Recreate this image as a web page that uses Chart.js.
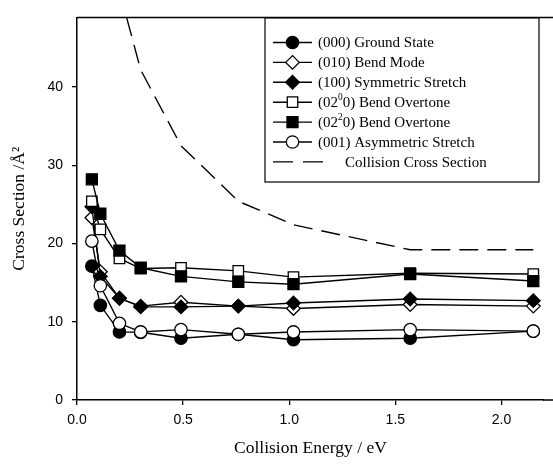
<!DOCTYPE html>
<html>
<head>
<meta charset="utf-8">
<script src="https://cdn.jsdelivr.net/npm/chart.js@4.4.0/dist/chart.umd.min.js"></script>
<style>
  html, body { margin: 0; padding: 0; background: #fff; }
</style>
</head>
<body>
<canvas id="chart" width="553" height="464"></canvas>
<script>
// collision energies (eV), shared by the vibrational states
const energies = [0.07, 0.11, 0.2, 0.3, 0.49, 0.76, 1.02, 1.57, 2.15];

// cross sections (A^2)
const groundState  = [17.1, 12.1, 8.7, 8.65, 7.9, 8.4, 7.7, 7.9, 8.8];
const bendMode     = [23.3, 16.4, 13.0, 12.0, 12.5, 12.0, 11.7, 12.2, 12.0];
const symStretch   = [24.7, 15.8, 13.0, 11.9, 11.9, 12.0, 12.4, 12.9, 12.7];
const bendOvertone0 = [25.4, 21.8, 18.1, 16.8, 16.9, 16.5, 15.7, 16.2, 16.1];
const bendOvertone2 = [28.2, 23.8, 19.1, 16.9, 15.8, 15.1, 14.8, 16.1, 15.2];
const asymStretch  = [20.3, 14.6, 9.8, 8.7, 9.0, 8.4, 8.7, 9.0, 8.8];

// collision cross section (dashed curve)
const collisionEnergies = [0.2, 0.3, 0.49, 0.76, 1.02, 1.57, 2.15];
const collisionSection  = [52.3, 42.2, 32.5, 25.4, 22.4, 19.2, 19.2];

// labels, {n} = superscript
const seriesLabels = [
  '(000) Ground State',
  '(010) Bend Mode',
  '(100) Symmetric Stretch',
  '(02{0}0) Bend Overtone',
  '(02{2}0) Bend Overtone',
  '(001) Asymmetric Stretch',
  'Collision Cross Section'
];

const xTicks = [0, 0.5, 1.0, 1.5, 2.0];
const yTicks = [0, 10, 20, 30, 40];

const serif = '"Liberation Serif", "Times New Roman", serif';
const sans = '"Liberation Sans", Arial, sans-serif';

function toPoints(xs, ys) {
  return xs.map((x, i) => ({ x: x, y: ys[i] }));
}

// marker styles for each series
const markers = [
  { pointStyle: 'circle',  radius: 6.2, fill: '#000' },
  { pointStyle: 'rectRot', radius: 6.8, fill: '#fff' },
  { pointStyle: 'rectRot', radius: 6.8, fill: '#000' },
  { pointStyle: 'rect',    radius: 7.4, fill: '#fff' },
  { pointStyle: 'rect',    radius: 7.8, fill: '#000' },
  { pointStyle: 'circle',  radius: 6.2, fill: '#fff' }
];

const stateValues = [groundState, bendMode, symStretch, bendOvertone0, bendOvertone2, asymStretch];

const datasets = stateValues.map((vals, i) => ({
  label: seriesLabels[i].replace(/[{}]/g, ''),
  data: toPoints(energies, vals),
  borderColor: '#000',
  borderWidth: 1.4,
  pointStyle: markers[i].pointStyle,
  pointRadius: markers[i].radius,
  pointBackgroundColor: markers[i].fill,
  pointBorderColor: '#000',
  pointBorderWidth: 1.3,
  order: 10 - i
}));

datasets.push({
  label: seriesLabels[6],
  data: toPoints(collisionEnergies, collisionSection),
  borderColor: '#000',
  borderWidth: 1.4,
  borderDash: [19, 9],
  pointRadius: 0,
  order: 20
});

// frame: top line, and bottom axis carried on to the right edge (plot is cut off there)
const frameLines = {
  id: 'frameLines',
  afterDraw(chart) {
    const { ctx, chartArea } = chart;
    ctx.save();
    ctx.strokeStyle = '#000';
    ctx.lineWidth = 1.5;
    ctx.beginPath();
    ctx.moveTo(chartArea.left, chartArea.top);
    ctx.lineTo(chart.width, chartArea.top);
    ctx.moveTo(chartArea.right - 1, chartArea.bottom);
    ctx.lineTo(chart.width, chartArea.bottom);
    ctx.stroke();
    ctx.restore();
  }
};

// draws a label, with {n} parts raised and smaller
function drawRichText(ctx, text, x, y, size) {
  const parts = text.split(/(\{[^}]*\})/);
  let cx = x;
  parts.forEach(p => {
    if (!p) return;
    if (p[0] === '{') {
      const s = p.slice(1, -1);
      ctx.font = (size * 0.62) + 'px ' + serif;
      ctx.fillText(s, cx, y - size * 0.38);
      cx += ctx.measureText(s).width;
    } else {
      ctx.font = size + 'px ' + serif;
      ctx.fillText(p, cx, y);
      cx += ctx.measureText(p).width;
    }
  });
}

const boxLegend = {
  id: 'boxLegend',
  afterDraw(chart) {
    const ctx = chart.ctx;
    const left = 265, top = 18, right = 539, bottom = 182;
    const rowTop = 42.5, rowStep = 19.9;
    ctx.save();
    ctx.fillStyle = '#fff';
    ctx.fillRect(left, top, right - left, bottom - top);
    ctx.strokeStyle = '#000';
    ctx.lineWidth = 1.2;
    ctx.strokeRect(left, top, right - left, bottom - top);
    ctx.textBaseline = 'middle';
    seriesLabels.forEach((lab, i) => {
      const y = rowTop + i * rowStep;
      ctx.strokeStyle = '#000';
      ctx.lineWidth = 1.4;
      if (i < markers.length) {
        ctx.beginPath();
        ctx.moveTo(273, y);
        ctx.lineTo(312, y);
        ctx.stroke();
        ctx.fillStyle = markers[i].fill;
        ctx.lineWidth = 1.3;
        Chart.helpers.drawPoint(ctx, {
          pointStyle: markers[i].pointStyle,
          radius: markers[i].radius,
          rotation: 0,
          borderWidth: 1.3
        }, 292.5, y);
        ctx.fillStyle = '#000';
        drawRichText(ctx, lab, 318, y + 1, 15);
      } else {
        ctx.setLineDash([20, 10]);
        ctx.beginPath();
        ctx.moveTo(273, y);
        ctx.lineTo(323, y);
        ctx.stroke();
        ctx.setLineDash([]);
        ctx.fillStyle = '#000';
        drawRichText(ctx, lab, 345, y + 1, 15);
      }
    });
    ctx.restore();
  }
};

new Chart(document.getElementById('chart'), {
  type: 'line',
  data: { datasets: datasets },
  options: {
    responsive: false,
    animation: false,
    devicePixelRatio: 1,
    layout: { padding: { top: 14, right: 0, left: 0, bottom: 0 } },
    plugins: {
      legend: { display: false },
      tooltip: { enabled: false }
    },
    scales: {
      x: {
        type: 'linear',
        min: 0,
        max: 2.2,
        afterFit: s => { s.height = 64; },
        afterBuildTicks: s => { s.ticks = xTicks.map(v => ({ value: v })); },
        ticks: {
          includeBounds: false,
          callback: v => v.toFixed(1),
          color: '#000',
          font: { family: sans, size: 14 },
          padding: 7,
          maxRotation: 0
        },
        grid: { drawOnChartArea: false, drawTicks: true, tickLength: 5, color: '#000', lineWidth: 1.3 },
        border: { color: '#000', width: 1.5 },
        title: {
          display: true,
          text: 'Collision Energy / eV',
          color: '#000',
          font: { family: serif, size: 17.5 },
          padding: { top: 4, bottom: 5 }
        }
      },
      y: {
        min: 0,
        max: 48.9,
        afterFit: s => { s.width = 77; },
        afterBuildTicks: s => { s.ticks = yTicks.map(v => ({ value: v })); },
        ticks: {
          includeBounds: false,
          color: '#000',
          font: { family: sans, size: 14 },
          padding: 9
        },
        grid: { drawOnChartArea: false, drawTicks: true, tickLength: 5, color: '#000', lineWidth: 1.3 },
        border: { color: '#000', width: 1.5 },
        title: {
          display: true,
          text: 'Cross Section /Å²',
          color: '#000',
          font: { family: serif, size: 17.5 },
          padding: { top: 9, bottom: 0 }
        }
      }
    }
  },
  plugins: [frameLines, boxLegend]
});
</script>
</body>
</html>
